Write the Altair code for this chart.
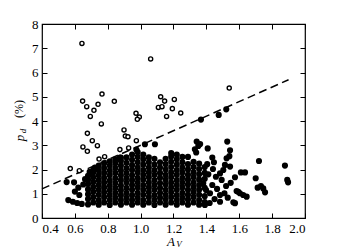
import altair as alt
import pandas as pd

# ---------------- data ----------------
# dense core of filled points, column by column
core_x = [0.680, 0.712, 0.745, 0.778, 0.812, 0.846, 0.880, 0.914, 0.948, 0.982,
          1.016, 1.050, 1.084, 1.118, 1.152, 1.186, 1.220, 1.254, 1.288, 1.322,
          1.356, 1.390]
core_y = [
    [0.56, 0.78, 0.98, 1.18, 1.40, 1.58, 1.74],
    [0.64, 0.86, 1.08, 1.28, 1.48, 1.68, 1.88, 2.00],
    [0.55, 0.74, 0.96, 1.16, 1.36, 1.56, 1.76, 1.96, 2.16],
    [0.64, 0.86, 1.06, 1.26, 1.46, 1.66, 1.86, 2.06, 2.26],
    [0.54, 0.74, 0.94, 1.14, 1.34, 1.54, 1.76, 1.96, 2.16, 2.34],
    [0.64, 0.84, 1.04, 1.24, 1.44, 1.64, 1.86, 2.06, 2.26, 2.42],
    [0.55, 0.74, 0.94, 1.14, 1.34, 1.56, 1.76, 1.96, 2.16, 2.36, 2.49],
    [0.64, 0.84, 1.04, 1.24, 1.46, 1.66, 1.86, 2.06, 2.28, 2.50],
    [0.55, 0.74, 0.94, 1.16, 1.36, 1.56, 1.76, 1.98, 2.18, 2.40, 2.62],
    [0.64, 0.84, 1.04, 1.26, 1.46, 1.66, 1.88, 2.08, 2.30, 2.52, 2.72],
    [0.55, 0.74, 0.96, 1.16, 1.36, 1.58, 1.78, 1.98, 2.20, 2.42, 2.62],
    [0.64, 0.86, 1.06, 1.26, 1.46, 1.68, 1.88, 2.08, 2.30, 2.50],
    [0.54, 0.74, 0.94, 1.16, 1.36, 1.56, 1.78, 1.98, 2.20, 2.44],
    [0.64, 0.84, 1.04, 1.24, 1.44, 1.66, 1.86, 2.08, 2.30],
    [0.55, 0.76, 0.96, 1.16, 1.38, 1.58, 1.78, 2.00, 2.22, 2.44],
    [0.64, 0.86, 1.06, 1.26, 1.46, 1.68, 1.88, 2.10, 2.32, 2.54, 2.68],
    [0.55, 0.74, 0.94, 1.16, 1.36, 1.56, 1.78, 1.98, 2.20, 2.42, 2.62],
    [0.64, 0.84, 1.04, 1.26, 1.46, 1.66, 1.88, 2.08, 2.30, 2.52],
    [0.55, 0.76, 0.96, 1.16, 1.38, 1.58, 1.78, 2.00, 2.22, 2.52],
    [0.64, 0.86, 1.06, 1.26, 1.46, 1.68, 1.88, 2.10, 2.32],
    [0.55, 0.74, 0.96, 1.16, 1.36, 1.58, 1.80, 2.02, 2.24],
    [0.66, 0.90, 1.24, 1.62, 1.86, 2.10],
]

# scattered filled points outside the core
spread_x = [0.550, 0.595, 0.560, 0.588, 0.614, 0.642, 0.600, 0.621, 0.627, 0.651,
            0.662, 0.690, 0.722,
            0.874, 0.974, 1.026, 1.087, 1.330, 1.351, 1.341, 1.362, 1.408, 1.338,
            1.367, 1.475, 1.521,
            1.436, 1.446, 1.523, 1.540, 1.513, 1.503, 1.483, 1.544, 1.574, 1.493,
            1.436, 1.381, 1.398, 1.422, 1.483, 1.510, 1.564, 1.483, 1.594, 1.391,
            1.527, 1.544, 1.450, 1.420, 1.465, 1.520, 1.548, 1.458, 1.412, 1.440,
            1.405, 1.530, 1.584, 1.604, 1.624, 1.645, 1.574, 1.610, 1.635, 1.700,
            1.712, 1.732, 1.746, 1.757, 1.720, 1.878, 1.892, 1.897]
spread_y = [1.48, 1.47, 0.74, 0.67, 0.62, 0.58, 1.09, 1.25, 0.95, 1.38,
            1.60, 1.90, 2.08,
            2.49, 2.82, 3.04, 3.04, 2.83, 2.97, 3.15, 3.05, 2.87, 2.70,
            4.06, 4.25, 4.48,
            2.49, 2.30, 2.46, 2.55, 2.19, 1.98, 1.84, 2.12, 1.68, 1.57,
            1.36, 1.43, 1.15, 1.02, 0.95, 1.02, 0.65, 0.67, 1.08, 0.54,
            3.15, 2.79, 0.78, 0.62, 1.20, 1.32, 1.45, 1.70, 1.80, 2.02,
            2.22, 0.84, 1.11, 1.02, 0.95, 0.88, 0.61, 1.88, 1.88, 1.64,
            1.25, 1.32, 1.22, 1.06, 2.35, 2.16, 1.57, 1.47]

# open circles (above the dashed line)
open_x = [0.643, 1.061, 0.647, 0.672, 0.694, 0.716, 0.741, 0.765, 0.840, 0.972,
          0.992, 0.980, 1.122, 1.108, 1.130, 1.146, 1.158, 1.205, 1.193, 1.244,
          1.539, 0.761, 0.899, 0.907, 0.923, 0.974, 0.676, 0.706, 0.737, 0.649,
          0.676, 0.747, 0.781, 0.874, 0.927, 0.572, 0.627]
open_y = [7.20, 6.56, 4.82, 4.59, 4.19, 4.44, 4.69, 5.11, 4.81, 4.32,
          4.16, 4.07, 5.00, 4.56, 4.59, 4.82, 4.19, 4.89, 4.51, 4.33,
          5.36, 3.88, 3.63, 3.38, 3.35, 3.19, 3.49, 3.19, 2.98, 2.93,
          2.75, 2.43, 2.53, 2.82, 2.89, 2.04, 1.95]

# dashed dividing line
line_x = [0.4, 1.9]
line_y = [1.2, 5.7]

x_ticks = [0.4, 0.6, 0.8, 1.0, 1.2, 1.4, 1.6, 1.8, 2.0]
y_ticks = [0, 1, 2, 3, 4, 5, 6, 7, 8]

# ---------------- tables ----------------
fx, fy = [], []
for cx, ys in zip(core_x, core_y):
    for v in ys:
        fx.append(cx)
        fy.append(v)
fx += spread_x
fy += spread_y
filled_df = pd.DataFrame({"x": fx, "y": fy})
open_df = pd.DataFrame({"x": open_x, "y": open_y})
line_df = pd.DataFrame({"x": line_x, "y": line_y})

SERIF = "Liberation Serif"
W, H = 263, 194

xs = alt.Scale(domain=[0.4, 2.0], nice=False, zero=False)
ys = alt.Scale(domain=[0, 8], nice=False, zero=False)

tick_common = dict(domain=False, tickSize=5, offset=-5, tickColor="black",
                   tickWidth=1, grid=False, title=None,
                   labelFont=SERIF, labelFontSize=13, labelColor="black",
                   labelPadding=4)

x_bottom = alt.Axis(orient="bottom", values=x_ticks, format=".1f", **tick_common)
y_left = alt.Axis(orient="left", values=y_ticks, format="d", **tick_common)
x_top = alt.Axis(orient="top", values=x_ticks, labels=False, **tick_common)
y_right = alt.Axis(orient="right", values=y_ticks, labels=False, **tick_common)

filled = alt.Chart(filled_df).mark_circle(color="black", opacity=1, size=38).encode(
    x=alt.X("x:Q", scale=xs, axis=x_bottom),
    y=alt.Y("y:Q", scale=ys, axis=y_left),
)

dashed = alt.Chart(line_df).mark_line(color="black", strokeWidth=1.5,
                                      strokeDash=[8, 4.5]).encode(
    x=alt.X("x:Q", scale=xs, axis=x_top),
    y=alt.Y("y:Q", scale=ys, axis=y_right),
)

opens = alt.Chart(open_df).mark_point(shape="circle", filled=False, fill="white",
                                      fillOpacity=1, color="black", strokeWidth=1.4,
                                      opacity=1, size=17).encode(
    x=alt.X("x:Q", scale=xs, axis=None),
    y=alt.Y("y:Q", scale=ys, axis=None),
)


def label(txt, px, py, size, angle=0, italic=True):
    return alt.Chart(pd.DataFrame({"t": [txt]})).mark_text(
        font=SERIF, fontSize=size, fontStyle="italic" if italic else "normal",
        color="black", align="center", baseline="middle", angle=angle,
    ).encode(text="t:N", x=alt.value(px), y=alt.value(py))


titles = [
    label("p", -22, 114, 13, angle=270),
    label("d", -19, 107, 9, angle=270),
    label("(%)", -23, 85, 12, angle=270, italic=False),
    label("A", 129, 218, 13),
    label("V", 137, 220, 9),
]

chart = alt.layer(filled, dashed, opens, *titles).resolve_axis(
    x="independent", y="independent"
).properties(
    width=W, height=H,
    autosize=alt.AutoSizeParams(type="none"),
    padding={"left": 34, "top": 16, "right": 26, "bottom": 32},
).configure_view(stroke="black", strokeWidth=1.2)

chart.save("out.html", embed_options={"renderer": "svg", "actions": False})
